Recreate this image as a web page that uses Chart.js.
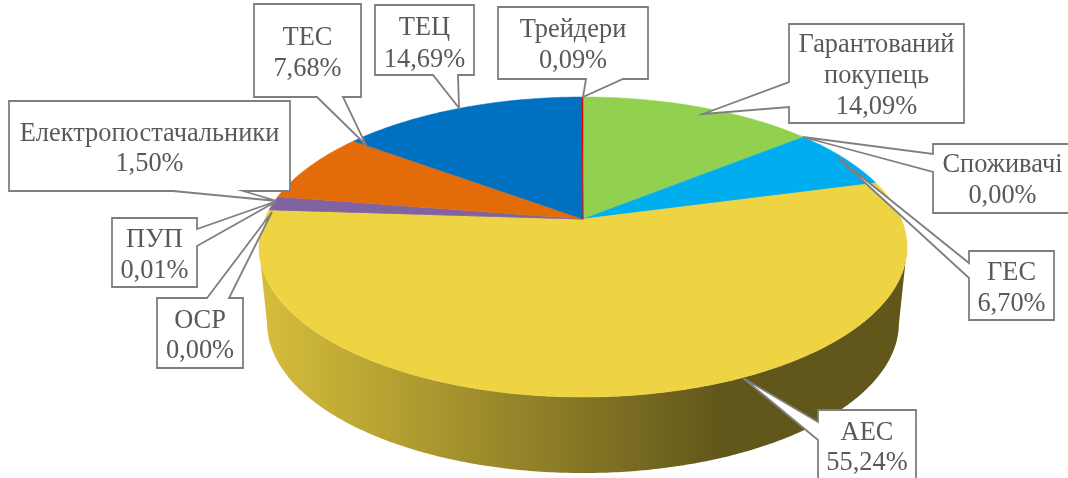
<!DOCTYPE html>
<html><head><meta charset="utf-8">
<style>html,body{margin:0;padding:0;background:#fff;overflow:hidden}canvas{display:block}</style>
<script src="https://cdn.jsdelivr.net/npm/chart.js@4"></script>
</head><body><canvas id="c" width="1068" height="478"></canvas>
<script>
const categories = ["Гарантований покупець","Споживачі","ГЕС","АЕС","ОСР","ПУП","Електропостачальники","ТЕС","ТЕЦ","Трейдери"];
const values = [14.09,0.00,6.70,55.24,0.00,0.01,1.50,7.68,14.69,0.09];
const colors = ["#92D050","#00B0F0","#00AEEF","#EED342","#A5A5A5","#8064A2","#8064A2","#E36C09","#0070C0","#E00000"];

// Callout layout, same order as categories: box, wedge base, tip, first text baseline, line spacing
const callouts = [
 {box:[789,24,964,123], base:[[789,82],[789,107]], tip:[703,114], y:52, dy:31},
 {box:[933,144,1072,213], base:[[933,154],[933,172]], tip:[803,137], y:172, dy:31},
 {box:[969,251,1054,320], base:[[969,263],[969,278]], tip:[837,157], y:280, dy:31},
 {box:[818,410,916,490], base:[[818,422],[818,440]], tip:[743,378], y:440, dy:30},
 {box:[157,298,243,368], base:[[207,298],[229,298]], tip:[272,212], y:328, dy:30},
 {box:[112,218,197,287], base:[[197,229],[197,246]], tip:[277,201], y:247, dy:31},
 {box:[9,101,290,191], base:[[173,191],[243,191]], tip:[277,201], y:141, dy:30},
 {box:[254,4,361,97], base:[[317,97],[343,97]], tip:[366,145], y:45, dy:31},
 {box:[375,5,474,75], base:[[433,75],[458,75]], tip:[459,108], y:35, dy:32},
 {box:[498,7,648,79], base:[[586,79],[623,79]], tip:[583,97], y:37, dy:31}
];

// Perspective view of the pie disc
const view = {cx:583, apexY:219, a:103.9, c:-0.1867, d:318.3, depth:76, taper:0.975, shadeFrom:260, shadeTo:720};
function project(angle){
  const u = Math.cos(angle), v = Math.sin(angle);
  const w = 1 + view.c*v;
  return [view.cx + view.d*u/w, (view.apexY + view.a*v)/w];
}
function lower(p){ return [view.cx + (p[0]-view.cx)*view.taper, p[1]+view.depth]; }
function arcAngles(el){
  const n = Math.max(2, Math.ceil((el.endAngle-el.startAngle)/0.01));
  const out = [];
  for(let i=0;i<=n;i++) out.push(el.startAngle+(el.endAngle-el.startAngle)*i/n);
  return out;
}
function rgb(hex){ return [1,3,5].map(i=>parseInt(hex.substr(i,2),16)); }
function shade(hex,f){ return "rgb("+rgb(hex).map(v=>Math.round(v*f)).join(",")+")"; }

Chart.ArcElement.prototype.draw = function(ctx){
  if(this.endAngle-this.startAngle<=0) return;
  const pts = arcAngles(this).map(project), col = this.options.backgroundColor;
  ctx.save();
  ctx.beginPath();
  ctx.moveTo(view.cx, view.apexY);
  pts.forEach(p=>ctx.lineTo(p[0],p[1]));
  ctx.closePath();
  ctx.fillStyle = col; ctx.fill();
  ctx.strokeStyle = col; ctx.lineWidth = 0.5; ctx.stroke();
  ctx.restore();
};

const sidePlugin = {
  id:"side",
  beforeDatasetsDraw(chart){
    const ctx = chart.ctx;
    chart.getDatasetMeta(0).data.forEach((el,i)=>{
      if(el.endAngle-el.startAngle<=0) return;
      // only the part of the rim facing the viewer shows a wall
      const pts = arcAngles(el).filter(t=>Math.sin(t)>=-view.c).map(project);
      if(pts.length<2) return;
      const g = ctx.createLinearGradient(view.shadeFrom,0,view.shadeTo,0);
      g.addColorStop(0,shade(colors[i],0.90));
      g.addColorStop(1,shade(colors[i],0.41));
      ctx.save();
      ctx.beginPath();
      pts.forEach((p,j)=> j? ctx.lineTo(p[0],p[1]) : ctx.moveTo(p[0],p[1]));
      pts.slice().reverse().forEach(p=>{const q=lower(p); ctx.lineTo(q[0],q[1]);});
      ctx.closePath();
      ctx.fillStyle=g; ctx.fill();
      ctx.restore();
    });
  }
};

const calloutPlugin = {
  id:"callouts",
  afterDatasetsDraw(chart){
    const ctx = chart.ctx;
    ctx.save();
    callouts.forEach((c,i)=>{
      const [x1,y1,x2,y2] = c.box;
      const [b1,b2] = c.base;
      // walk the box outline, inserting the wedge on the side it leaves from
      let path;
      if(b1[0]===x1) path=[[x1,y1],[x2,y1],[x2,y2],[x1,y2],b2,c.tip,b1];
      else if(b1[0]===x2) path=[[x1,y1],[x2,y1],b1,c.tip,b2,[x2,y2],[x1,y2]];
      else if(b1[1]===y1) path=[[x1,y1],b1,c.tip,b2,[x2,y1],[x2,y2],[x1,y2]];
      else path=[[x1,y1],[x2,y1],[x2,y2],b2,c.tip,b1,[x1,y2]];
      ctx.beginPath();
      path.forEach((p,j)=> j? ctx.lineTo(p[0],p[1]) : ctx.moveTo(p[0],p[1]));
      ctx.closePath();
      ctx.fillStyle="#fff"; ctx.fill();
      ctx.strokeStyle="#7F7F7F"; ctx.lineWidth=1.8; ctx.lineJoin="miter"; ctx.stroke();
      ctx.fillStyle="#595959";
      ctx.font="26.4px 'Liberation Serif'";
      ctx.textAlign="center"; ctx.textBaseline="alphabetic";
      const lines = categories[i].split(" ").concat(values[i].toFixed(2).replace(".",",")+"%");
      lines.forEach((t,j)=>ctx.fillText(t,(x1+x2)/2,c.y+j*c.dy));
    });
    ctx.restore();
  }
};

new Chart(document.getElementById("c"),{
  type:"pie",
  data:{labels:categories,datasets:[{data:values,backgroundColor:colors,borderWidth:0}]},
  options:{responsive:false,animation:false,devicePixelRatio:1,
    plugins:{legend:{display:false},tooltip:{enabled:false}}},
  plugins:[sidePlugin,calloutPlugin]
});
</script></body></html>
